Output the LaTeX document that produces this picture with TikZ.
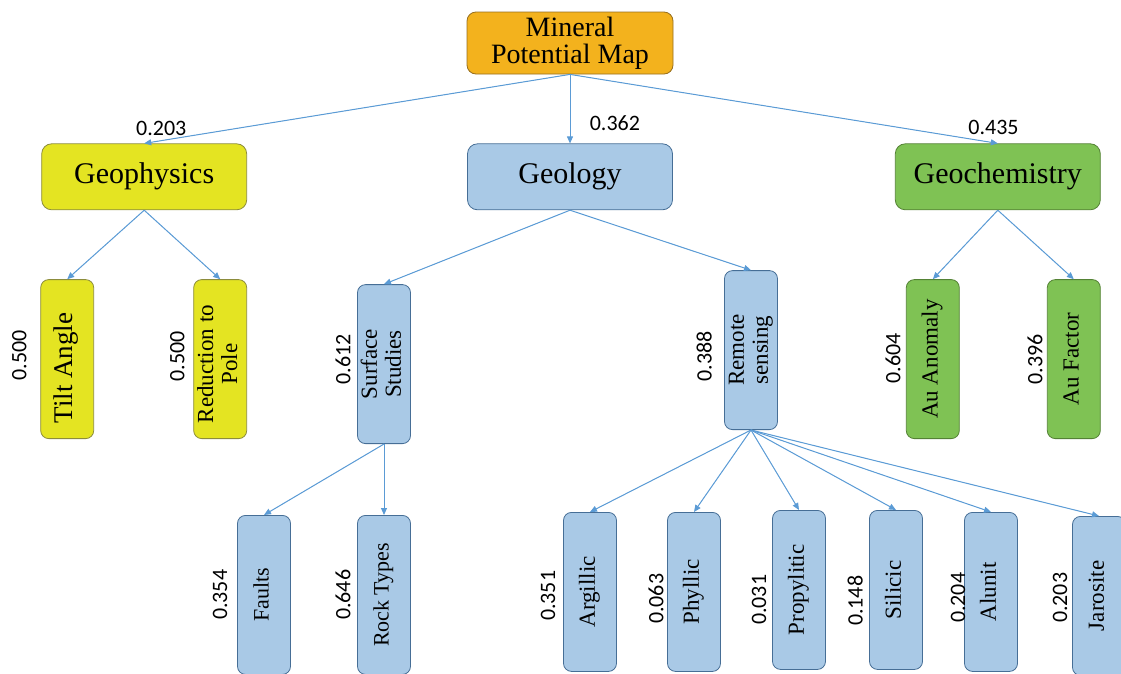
\documentclass[tikz,border=0pt]{standalone}
\usepackage{fontspec}
\setmainfont{Liberation Serif}
\newfontfamily\numfont{Carlito}
\usepackage{xcolor}
\usetikzlibrary{arrows.meta, positioning}

\definecolor{maporange}{RGB}{243,178,29}
\definecolor{orangeline}{RGB}{150,110,30}
\definecolor{geoyellow}{RGB}{228,228,34}
\definecolor{yellowline}{RGB}{140,140,60}
\definecolor{geoblue}{RGB}{169,201,230}
\definecolor{blueline}{RGB}{70,110,150}
\definecolor{geogreen}{RGB}{127,194,84}
\definecolor{greenline}{RGB}{84,130,53}
\definecolor{arrowblue}{RGB}{91,155,213}

\newcommand{\vtext}[2][0pt]{\rotatebox{90}{\begin{tabular}{@{}c@{}}#2\end{tabular}\hspace{#1}}}

\tikzstyle{topbox} = [rectangle, rounded corners=9pt, minimum width=206pt, minimum height=62pt, inner sep=0pt, align=center, line width=0.8pt, draw=orangeline, fill=maporange, font=\fontsize{28}{27}\selectfont]
\tikzstyle{mainbox} = [rectangle, rounded corners=10pt, minimum width=205pt, minimum height=66pt, inner sep=0pt, line width=0.8pt, draw=blueline, fill=geoblue, font=\fontsize{30}{30}\selectfont]
\tikzstyle{vbox} = [rectangle, rounded corners=8pt, minimum width=53pt, minimum height=159pt, inner sep=0pt, line width=0.8pt, draw=blueline, fill=geoblue, font=\fontsize{23}{24}\selectfont]
\tikzstyle{wlab} = [font=\numfont\fontsize{22}{22}\selectfont]
\tikzstyle{vlab} = [wlab, rotate=90]
\tikzstyle{arrow} = [->, >={Triangle[length=7pt, width=6pt]}, line width=1pt, draw=arrowblue, fill=arrowblue]

\begin{document}
\begin{tikzpicture}[x=1pt, y=1pt]

\useasboundingbox (0,0) rectangle (1121,-673);

\node (map) [topbox] at (570,-43) {Mineral\\Potential Map};

\node (geology) [mainbox, below=69pt of map] {Geology};

\node (geophys) [mainbox, left=220pt of geology, draw=yellowline, fill=geoyellow] {Geophysics};

\node (geochem) [mainbox, right=222pt of geology, draw=greenline, fill=geogreen] {Geochemistry};

\node (tilt) [vbox, below=69pt of geophys, xshift=-77pt, draw=yellowline, fill=geoyellow, font=\fontsize{27}{28}\selectfont] {\vtext[18pt]{Tilt Angle}};

\node (rtp) [vbox, below=69pt of geophys, xshift=76pt, draw=yellowline, fill=geoyellow] {\vtext[10pt]{Reduction to\\Pole}};

\node (surface) [vbox, below=74pt of geology, xshift=-186pt] {\vtext{Surface\\Studies}};

\node (remote) [vbox, below=60pt of geology, xshift=181pt] {\vtext{Remote\\sensing}};

\node (au-anomaly) [vbox, below=69pt of geochem, xshift=-65pt, draw=greenline, fill=geogreen] {\vtext{Au Anomaly}};

\node (au-factor) [vbox, below=69pt of geochem, xshift=76pt, draw=greenline, fill=geogreen] {\vtext{Au Factor}};

\node (faults) [vbox, below=71pt of surface, xshift=-120pt, font=\fontsize{22}{23}\selectfont] {\vtext{Faults}};

\node (rock-types) [vbox, below=71pt of surface, font=\fontsize{22}{23}\selectfont] {\vtext{Rock Types}};

\node (argillic) [vbox, below=82pt of remote, xshift=-161pt] {\vtext{Argillic}};

\node (phyllic) [vbox, below=82pt of remote, xshift=-57pt] {\vtext{Phyllic}};

\node (propylitic) [vbox, below=80pt of remote, xshift=48pt] {\vtext{Propylitic}};

\node (silicic) [vbox, below=80pt of remote, xshift=145pt] {\vtext{Silicic}};

\node (alunit) [vbox, below=82pt of remote, xshift=240pt] {\vtext{Alunit}};

\node (jarosite) [vbox, below=86pt of remote, xshift=348pt] {\vtext{Jarosite}};

% Weights
\node (w-tilt) [vlab] at ([xshift=-21pt, yshift=4pt]tilt.west) {0.500};
\node (w-rtp) [vlab] at ([xshift=-16pt, yshift=3pt]rtp.west) {0.500};
\node (w-surface) [vlab] at ([xshift=-14pt, yshift=5pt]surface.west) {0.612};
\node (w-remote) [vlab] at ([xshift=-20pt, yshift=-6pt]remote.west) {0.388};
\node (w-au-anomaly) [vlab] at ([xshift=-13pt, yshift=1pt]au-anomaly.west) {0.604};
\node (w-au-factor) [vlab] at ([xshift=-12pt]au-factor.west) {0.396};
\node (w-faults) [vlab] at ([xshift=-17pt]faults.west) {0.354};
\node (w-rock-types) [vlab] at ([xshift=-14pt]rock-types.west) {0.646};
\node (w-argillic) [vlab] at ([xshift=-15pt, yshift=-4pt]argillic.west) {0.351};
\node (w-phyllic) [vlab] at ([xshift=-11pt, yshift=-7pt]phyllic.west) {0.063};
\node (w-propylitic) [vlab] at ([xshift=-13pt, yshift=-10pt]propylitic.west) {0.031};
\node (w-silicic) [vlab] at ([xshift=-14pt, yshift=-11pt]silicic.west) {0.148};
\node (w-alunit) [vlab] at ([xshift=-6pt, yshift=-6pt]alunit.west) {0.204};
\node (w-jarosite) [vlab] at ([xshift=-12pt, yshift=-2pt]jarosite.west) {0.203};

% Arrows
\draw [arrow] (map.south) -- node[wlab, pos=0.96, above=1pt] (w-geophys) {0.203} (geophys.north);
\draw [arrow] (map.south) -- node[wlab, pos=0.7, right=16pt] (w-geology) {0.362} (geology.north);
\draw [arrow] (map.south) -- node[wlab, pos=0.99, above=4pt] (w-geochem) {0.435} (geochem.north);
\draw [arrow] (geophys.south) -- (tilt.north);
\draw [arrow] (geophys.south) -- (rtp.north);
\draw [arrow] (geology.south) -- (surface.north);
\draw [arrow] (geology.south) -- (remote.north);
\draw [arrow] (geochem.south) -- (au-anomaly.north);
\draw [arrow] (geochem.south) -- (au-factor.north);
\draw [arrow] (surface.south) -- (faults.north);
\draw [arrow] (surface.south) -- (rock-types.north);
\draw [arrow] (remote.south) -- (argillic.north);
\draw [arrow] (remote.south) -- (phyllic.north);
\draw [arrow] (remote.south) -- (propylitic.north);
\draw [arrow] (remote.south) -- (silicic.north);
\draw [arrow] (remote.south) -- (alunit.north);
\draw [arrow] (remote.south) -- (jarosite.north);

\end{tikzpicture}
\end{document}
